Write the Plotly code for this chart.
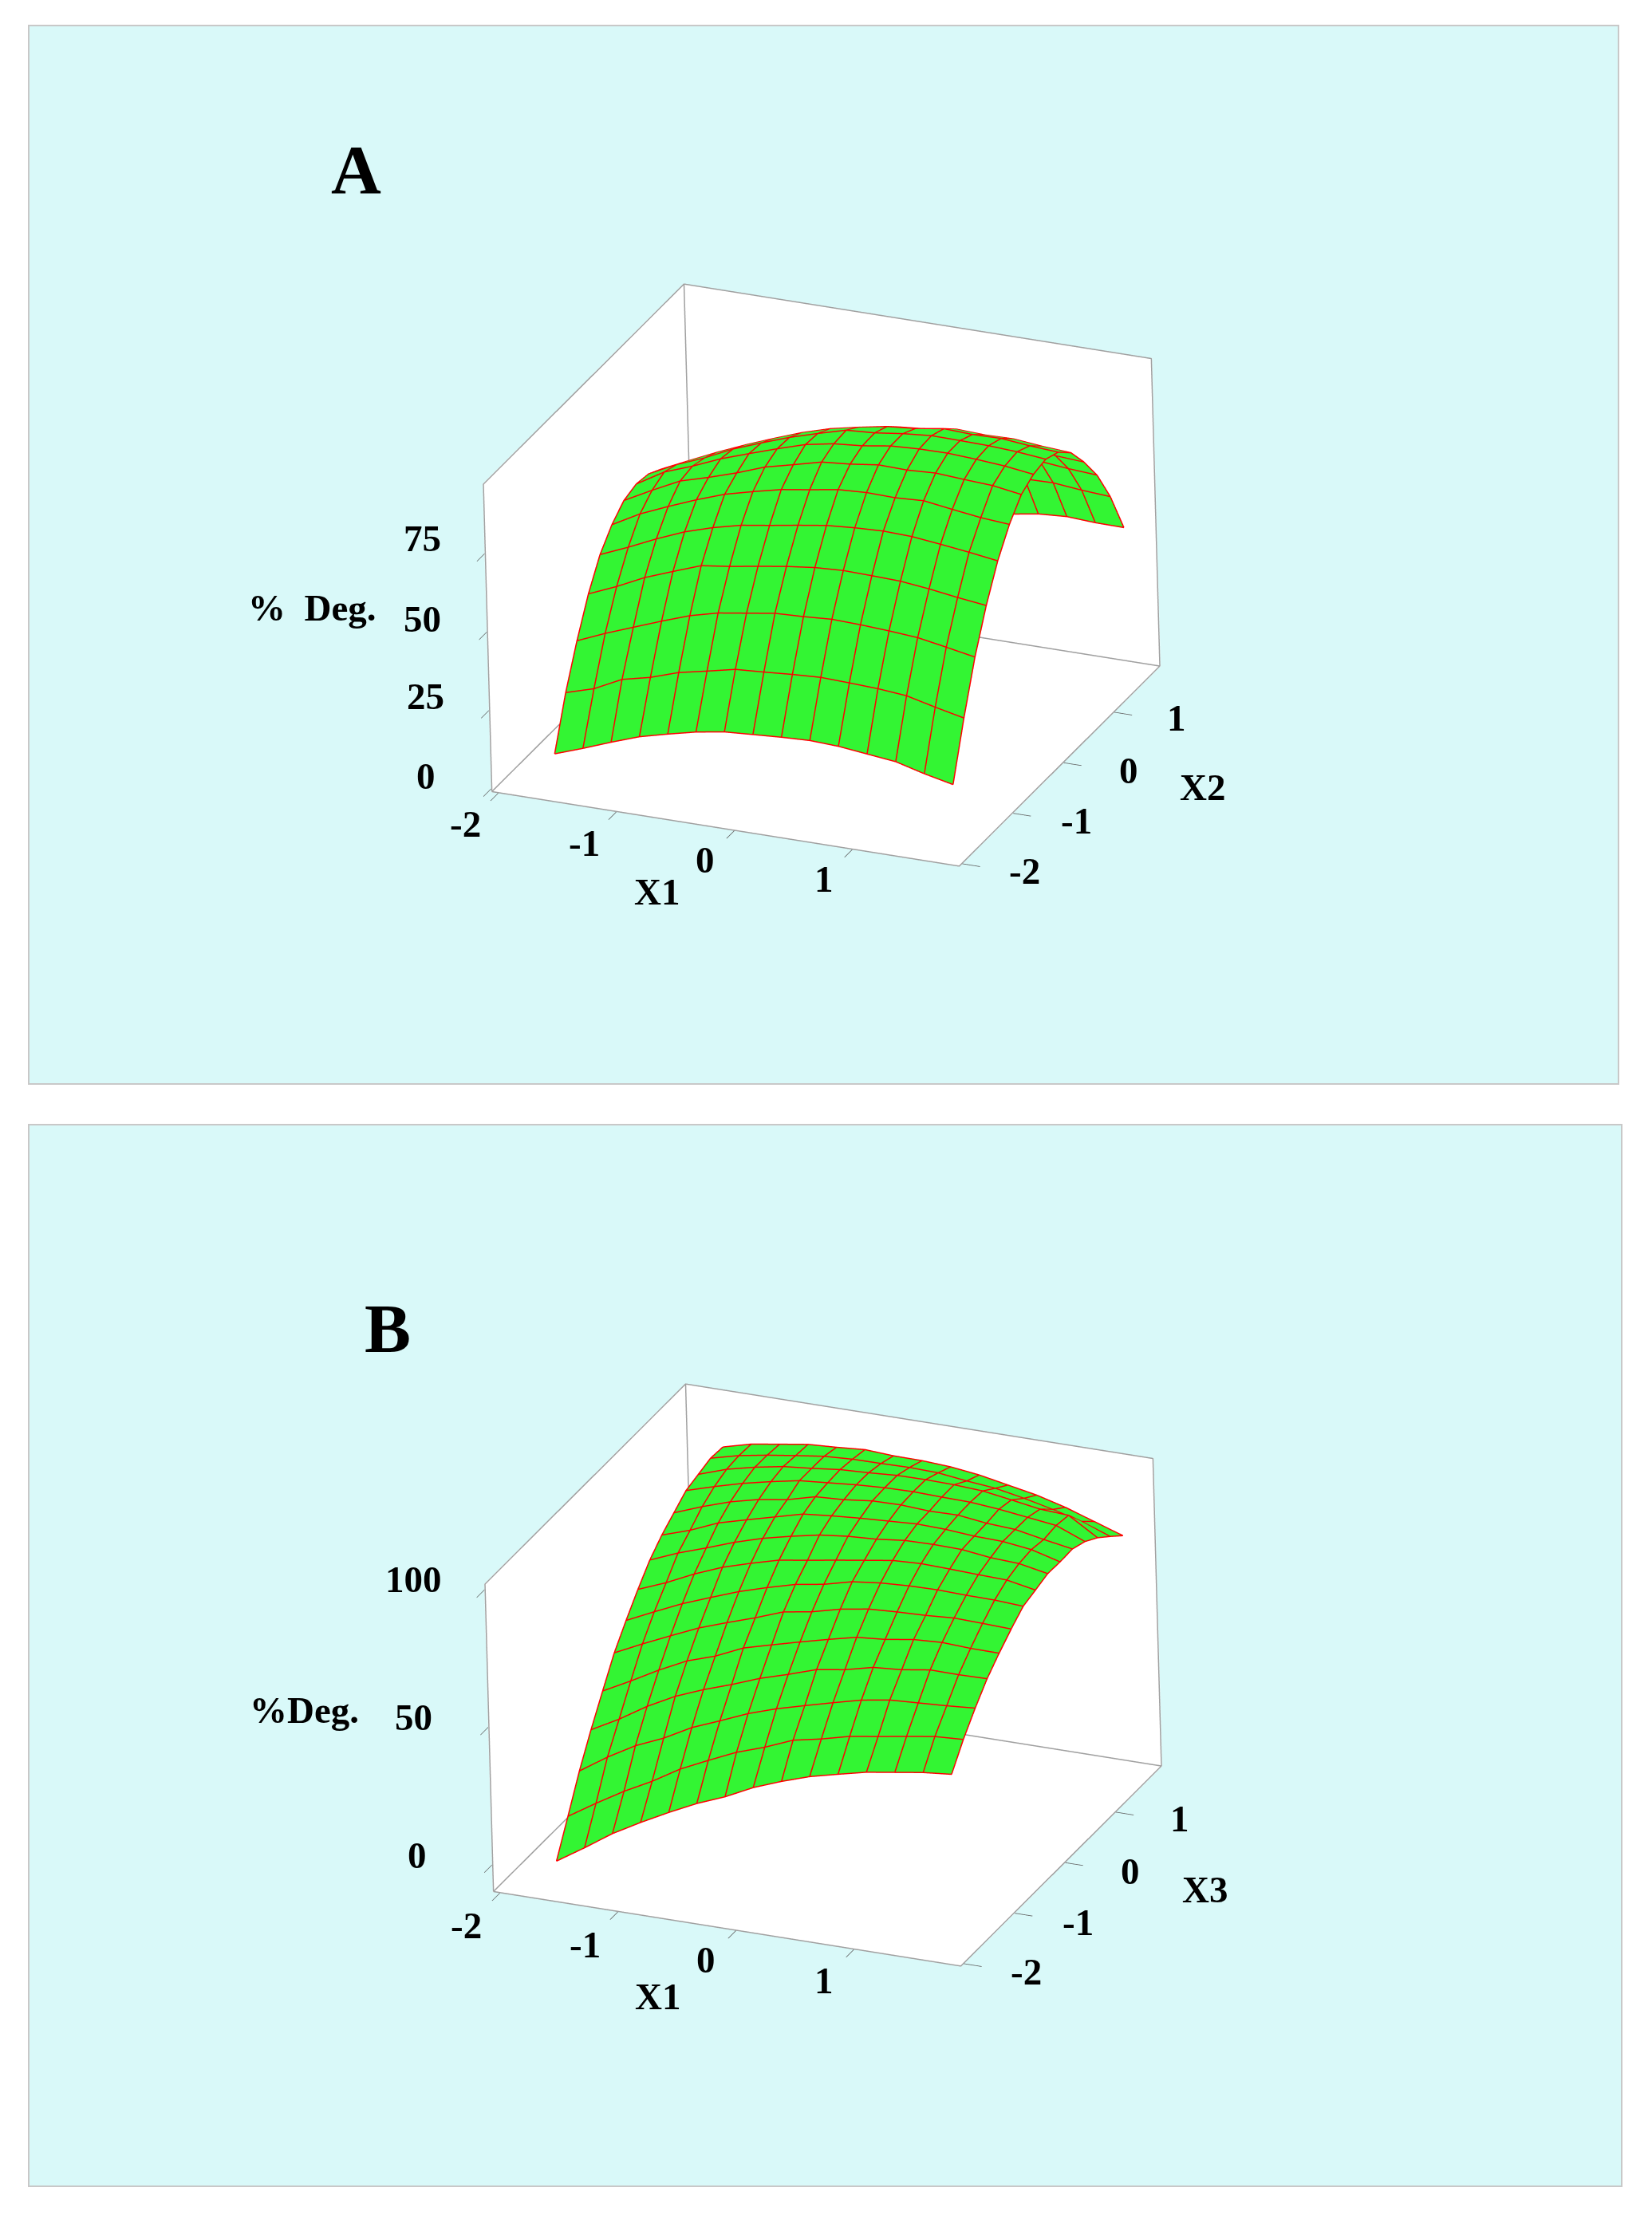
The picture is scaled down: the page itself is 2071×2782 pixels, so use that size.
import plotly.graph_objects as go

PAGE_W = 2055
PAGE_H = 2766
BODY_MARGIN = 8

x1_grid = [-1.633, -1.391, -1.150, -0.908, -0.666, -0.425, -0.183, 0.059, 0.301, 0.542, 0.784, 1.026, 1.268, 1.509, 1.751]
x2_grid = [-1.782, -1.538, -1.294, -1.049, -0.805, -0.561, -0.317, -0.073, 0.171, 0.415, 0.659, 0.904, 1.148, 1.392, 1.636]

# % degradation, one row per X2 step
deg_a = [
    [9.3, 12.5, 15.9, 19.1, 21.4, 23.5, 25.0, 25.6, 26.2, 26.6, 26.2, 25.2, 24.2, 21.8, 19.8],
    [24.9, 27.6, 32.0, 34.1, 37.1, 39.0, 41.0, 41.6, 42.3, 42.8, 42.5, 42.1, 41.3, 39.1, 37.1],
    [37.5, 41.3, 44.7, 48.1, 51.3, 53.6, 55.0, 56.4, 56.8, 57.4, 57.1, 56.6, 55.9, 54.3, 52.6],
    [48.5, 52.3, 56.6, 60.0, 63.3, 64.5, 66.0, 67.4, 68.5, 69.0, 68.8, 68.5, 67.5, 66.2, 65.1],
    [57.1, 60.9, 65.0, 68.7, 71.5, 73.7, 75.1, 76.6, 78.0, 78.7, 79.1, 78.8, 77.8, 76.7, 75.4],
    [62.7, 67.6, 71.4, 75.0, 78.2, 80.5, 82.6, 84.0, 85.5, 86.0, 85.8, 86.3, 85.0, 83.8, 83.1],
    [66.5, 71.2, 75.6, 78.2, 81.1, 84.4, 86.6, 88.9, 89.7, 90.9, 90.7, 91.2, 90.6, 90.1, 88.7],
    [67.8, 73.1, 76.4, 80.2, 83.3, 86.3, 89.1, 90.8, 91.6, 93.0, 93.5, 93.6, 93.1, 92.4, 91.2],
    [67.1, 71.5, 75.1, 79.4, 82.8, 86.0, 88.7, 91.2, 91.8, 93.0, 93.8, 93.7, 93.5, 93.0, 92.1],
    [64.7, 68.9, 73.0, 76.8, 80.3, 83.6, 86.3, 88.2, 89.9, 90.7, 92.1, 91.7, 91.9, 91.0, 90.4],
    [60.6, 64.8, 68.9, 72.7, 76.2, 79.5, 82.2, 84.1, 85.8, 86.6, 88.0, 87.6, 87.8, 86.9, 86.3],
    [53.7, 57.9, 62.0, 65.8, 69.3, 72.6, 75.3, 77.2, 78.9, 79.7, 81.1, 80.7, 80.9, 80.0, 79.4],
    [45.6, 49.8, 53.9, 57.7, 61.2, 64.5, 67.2, 69.1, 70.8, 71.6, 73.0, 72.6, 72.8, 71.9, 71.3],
    [34.8, 39.0, 43.1, 46.9, 50.4, 53.7, 56.4, 58.3, 60.0, 60.8, 62.2, 61.8, 62.0, 61.1, 60.5],
    [21.0, 25.0, 29.0, 33.0, 36.0, 39.0, 41.0, 43.0, 44.0, 44.8, 45.2, 46.7, 47.3, 46.8, 46.7],
]
deg_b = [
    [-0.8, 5.7, 12.5, 18.2, 23.5, 28.4, 32.5, 37.5, 41.4, 44.8, 47.3, 49.7, 51.3, 52.9, 53.9],
    [11.0, 17.4, 23.4, 28.7, 34.8, 39.6, 44.2, 47.7, 51.9, 54.0, 56.6, 58.2, 59.9, 61.5, 62.1],
    [23.0, 29.7, 35.5, 39.9, 45.4, 49.5, 53.8, 57.2, 60.0, 62.7, 65.3, 67.0, 67.6, 68.2, 69.0],
    [33.5, 39.0, 45.3, 50.6, 54.7, 58.2, 62.1, 65.2, 68.6, 70.2, 72.7, 73.5, 75.1, 75.0, 75.2],
    [43.1, 48.4, 54.0, 59.0, 62.4, 67.0, 69.8, 72.5, 75.1, 77.5, 78.4, 80.0, 80.6, 80.1, 80.0],
    [52.5, 57.4, 62.0, 66.5, 70.1, 73.5, 77.3, 79.0, 81.6, 83.3, 83.9, 84.3, 85.0, 84.7, 84.3],
    [59.8, 64.6, 69.2, 73.1, 76.9, 80.0, 82.8, 84.5, 87.1, 88.3, 88.9, 89.1, 88.8, 88.7, 88.1],
    [66.6, 70.7, 75.5, 79.6, 82.7, 85.5, 87.1, 88.8, 90.4, 92.0, 92.5, 92.2, 91.8, 91.5, 89.5],
    [72.8, 77.0, 80.5, 84.2, 87.3, 89.7, 91.8, 93.0, 93.6, 94.8, 95.0, 94.8, 93.5, 93.0, 91.0],
    [77.4, 80.8, 85.1, 87.9, 90.6, 93.3, 94.3, 95.1, 95.7, 96.3, 96.0, 95.2, 94.9, 93.6, 90.8],
    [81.0, 84.9, 88.3, 90.8, 92.4, 95.1, 95.7, 96.9, 97.1, 96.5, 96.7, 95.4, 94.8, 92.8, 91.0],
    [84.6, 87.7, 90.5, 92.8, 94.8, 95.7, 96.6, 97.2, 97.4, 97.1, 96.9, 96.0, 94.7, 93.4, 89.2],
    [86.0, 89.5, 91.9, 93.8, 94.8, 96.0, 96.5, 97.2, 97.3, 97.1, 96.5, 94.9, 93.2, 92.6, 86.1],
    [87.4, 90.0, 91.8, 93.3, 94.7, 95.3, 95.4, 95.6, 95.3, 94.0, 93.0, 91.0, 88.6, 85.9, 82.1],
    [87.0, 89.7, 91.3, 92.9, 93.5, 94.3, 93.7, 93.6, 93.0, 91.7, 89.7, 87.7, 84.9, 81.4, 77.9],
]

x_ticks = [-2, -1, 0, 1]
z_ticks_a = [0, 25, 50, 75]
z_ticks_b = [0, 50, 100]
xy_range = [-2.06, 1.91]
z_range_a = [-1, 97.3]
z_range_b = [-9.87, 102.2]

GREEN = "#33F533"
RED = "#FF0000"
EDGE = "#A0A0A0"
PANEL = "#D9F9F9"
FONT = "Liberation Serif"

EYE_R = 1.484
eye_dir = (0.3695, -0.8282, 0.4210)
up_dir = (-0.1463, 0.3956, 0.9066)
aspect = (1, 0.993, 0.666)
LIFT = 0.006    # wire sits this far towards the camera so the surface does not eat it
INSET = 0.0012  # box edges sit just inside the walls for the same reason


# reference pixel -> paper fraction, the page body adds a margin round the plot
def px(x):
    return (x - BODY_MARGIN) / PAGE_W


def py(y):
    return 1 - (y - BODY_MARGIN) / PAGE_H


def surface(z, scene):
    return go.Surface(
        x=x1_grid, y=x2_grid, z=z, scene=scene,
        colorscale=[[0, GREEN], [1, GREEN]], showscale=False, hoverinfo="skip",
        lighting=dict(ambient=1, diffuse=0, specular=0, fresnel=0, roughness=1),
        contours=dict(
            x=dict(show=False, highlight=False),
            y=dict(show=False, highlight=False),
            z=dict(show=False, highlight=False),
        ),
    )


def mesh_lines(z, zr, scene):
    # red wire over the surface: one line per row, one per column
    span = xy_range[1] - xy_range[0]
    dx = eye_dir[0] * LIFT * span / aspect[0]
    dy = eye_dir[1] * LIFT * span / aspect[1]
    dz = eye_dir[2] * LIFT * (zr[1] - zr[0]) / aspect[2]
    xs, ys, zs = [], [], []
    for i, row in enumerate(z):
        xs += [x + dx for x in x1_grid] + [None]
        ys += [x2_grid[i] + dy] * len(row) + [None]
        zs += [v + dz for v in row] + [None]
    for j, x in enumerate(x1_grid):
        xs += [x + dx] * len(z) + [None]
        ys += [y + dy for y in x2_grid] + [None]
        zs += [row[j] + dz for row in z] + [None]
    return go.Scatter3d(x=xs, y=ys, z=zs, mode="lines", scene=scene, showlegend=False,
                        hoverinfo="skip", line=dict(color=RED, width=3))


def box_edges(zr, scene):
    # the three far walls only, near edges are not drawn
    span = xy_range[1] - xy_range[0]
    x0, x1 = xy_range[0] + INSET * span, xy_range[1] - INSET * span
    y0, y1 = x0, x1
    z0 = zr[0] + INSET * (zr[1] - zr[0])
    z1 = zr[1] - INSET * (zr[1] - zr[0])
    xs = [x0, x1, x1, x0, x0, None, x0, x0, x0, x1, x1, None, x0, x0]
    ys = [y0, y0, y1, y1, y0, None, y0, y0, y1, y1, y1, None, y1, y1]
    zs = [z0, z0, z0, z0, z0, None, z0, z1, z1, z1, z0, None, z0, z1]
    return go.Scatter3d(x=xs, y=ys, z=zs, mode="lines", scene=scene, showlegend=False,
                        hoverinfo="skip", line=dict(color=EDGE, width=3))


def axis(rng, ticks):
    return dict(
        range=rng, autorange=False, title=dict(text=""), tickmode="array", tickvals=ticks,
        showticklabels=False, ticks="outside", ticklen=24, tickcolor="#606060", tickwidth=2,
        showgrid=False, zeroline=False, showline=False, showspikes=False,
        showbackground=True, backgroundcolor="white",
    )


def scene_layout(cx, cy, half, zr, zt):
    return dict(
        domain=dict(x=[px(cx - half), px(cx + half)], y=[py(cy + half), py(cy - half)]),
        xaxis=axis(xy_range, x_ticks), yaxis=axis(xy_range, x_ticks), zaxis=axis(zr, zt),
        aspectmode="manual", aspectratio=dict(x=aspect[0], y=aspect[1], z=aspect[2]),
        camera=dict(
            eye=dict(x=eye_dir[0] * EYE_R, y=eye_dir[1] * EYE_R, z=eye_dir[2] * EYE_R),
            up=dict(x=up_dir[0], y=up_dir[1], z=up_dir[2]),
            center=dict(x=0, y=0, z=0),
            projection=dict(type="orthographic"),
        ),
        dragmode=False,
    )


fig = go.Figure()
fig.add_trace(surface(deg_a, "scene"))
fig.add_trace(mesh_lines(deg_a, z_range_a, "scene"))
fig.add_trace(box_edges(z_range_a, "scene"))
fig.add_trace(surface(deg_b, "scene2"))
fig.add_trace(mesh_lines(deg_b, z_range_b, "scene2"))
fig.add_trace(box_edges(z_range_b, "scene2"))

labels = [
    ("A", 446, 212, 87), ("B", 486, 1665, 87),
    ("%\u00a0\u00a0Deg.", 391, 762, 47), ("%Deg.", 381, 2144, 47),
    ("X1", 823, 1118, 47), ("X2", 1507, 987, 47),
    ("X1", 824, 2503, 47), ("X3", 1510, 2369, 47),
]
tick_pos_a = [(583, 1033), (732, 1057), (884, 1078), (1033, 1102)]
tick_pos_a2 = [(1284, 1092), (1349, 1029), (1415, 966), (1475, 900)]
tick_pos_az = [(534, 973), (533, 873), (529, 776), (529, 675)]
tick_pos_b = [(584, 2414), (733, 2438), (885, 2457), (1033, 2483)]
tick_pos_b2 = [(1286, 2472), (1351, 2410), (1417, 2346), (1479, 2280)]
tick_pos_bz = [(523, 2326), (518, 2153), (518, 1980)]

for vals, pos in [(x_ticks, tick_pos_a), (x_ticks, tick_pos_a2), (z_ticks_a, tick_pos_az),
                  (x_ticks, tick_pos_b), (x_ticks, tick_pos_b2), (z_ticks_b, tick_pos_bz)]:
    for v, (x, y) in zip(vals, pos):
        labels.append((str(v), x, y, 47))

annotations = [
    dict(text="<b>%s</b>" % t, x=px(x), y=py(y), xref="paper", yref="paper", showarrow=False,
         xanchor="center", yanchor="middle", font=dict(family=FONT, size=s, color="black"))
    for t, x, y, s in labels
]

panels = [(36, 32, 2029, 1359), (36, 1410, 2033, 2741)]
shapes = [
    dict(type="rect", xref="paper", yref="paper", layer="below",
         x0=px(l), x1=px(r), y0=py(b), y1=py(t), fillcolor=PANEL, line=dict(color="#C8C8C8", width=2))
    for l, t, r, b in panels
]

fig.update_layout(
    width=PAGE_W, height=PAGE_H, margin=dict(l=0, r=0, t=0, b=0), autosize=False,
    paper_bgcolor="white", showlegend=False,
    scene=scene_layout(1030, 721, 640, z_range_a, z_ticks_a),
    scene2=scene_layout(1032, 2100, 640, z_range_b, z_ticks_b),
    annotations=annotations, shapes=shapes,
)

fig.write_html("out.html")
